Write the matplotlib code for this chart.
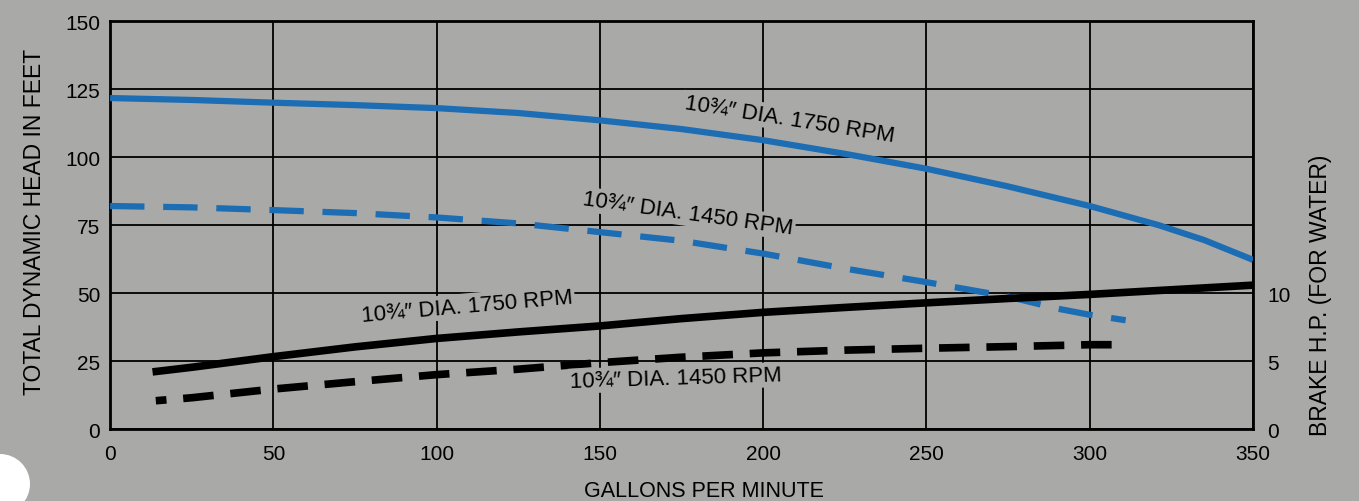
import matplotlib.pyplot as plt
from matplotlib.patches import Circle

plt.rcParams['font.family'] = ['Liberation Sans', 'DejaVu Sans']

# pump curves (GPM vs feet of head)
gpm_head = [0, 25, 50, 75, 100, 125, 150, 175, 200, 225, 250, 275, 300, 321, 335, 350]
head_1750 = [121.7, 121, 120, 119.1, 118, 116.2, 113.5, 110.3, 106.2, 101.2, 95.7, 89.2, 82, 75, 69.5, 62.2]

gpm_head_1450 = [0, 25, 50, 75, 100, 125, 150, 175, 200, 225, 250, 275, 290, 300, 311]
head_1450 = [82, 81.5, 80.5, 79.4, 77.8, 75.6, 72.4, 69.2, 64.5, 59, 54, 48.7, 44.3, 42, 40]

# brake HP curves (plotted on the head scale, 5 ft = 1 HP)
gpm_hp = [13, 25, 50, 75, 100, 125, 150, 175, 200, 225, 250, 275, 300, 325, 350]
hp_1750 = [21, 22.7, 26.6, 30.2, 33.3, 35.7, 37.9, 40.6, 42.9, 44.7, 46.4, 48, 49.5, 51.2, 52.9]

gpm_hp_1450 = [14, 25, 50, 75, 100, 125, 150, 175, 200, 225, 250, 275, 300, 311]
hp_1450 = [10.4, 11.5, 14.7, 17.4, 20, 22, 24.4, 26.4, 28, 29, 29.7, 30.3, 31, 31]

bg = '#a9aaa7'
blue = '#1c6db4'

fig = plt.figure(figsize=(13.59, 5.02), dpi=100, facecolor=bg)
ax = fig.add_axes([0.081, 0.1434, 0.841, 0.8126], facecolor=bg)

ax.set_xlim(0, 350)
ax.set_ylim(0, 150)
ax.set_xticks(range(0, 351, 50))
ax.set_yticks(range(0, 151, 25))
ax.grid(True, color='black', lw=1.3)
ax.tick_params(length=0, labelsize=15)
ax.tick_params(axis='x', pad=11)
ax.tick_params(axis='y', pad=7)
for s in ax.spines.values():
    s.set_linewidth(2)

ax.plot(gpm_head, head_1750, color=blue, lw=4.5, solid_capstyle='butt', zorder=3)
ax.plot(gpm_head_1450, head_1450, color=blue, lw=4.5, ls=(0, (5.5, 3)), zorder=3)
ax.plot(gpm_hp, hp_1750, color='black', lw=5.5, solid_capstyle='butt', zorder=3)
ax.plot(gpm_hp_1450, hp_1450, color='black', lw=5.5, ls=(2.6, (4, 2.2)), zorder=3)

lbl = dict(fontsize=16, ha='center', va='center', zorder=4,
           bbox=dict(facecolor=bg, edgecolor='none', pad=1.5))
ax.text(208, 114, '10¾″ DIA. 1750 RPM', rotation=-9, **lbl)
ax.text(177, 79.2, '10¾″ DIA. 1450 RPM', rotation=-8, **lbl)
ax.text(109.3, 45.3, '10¾″ DIA. 1750 RPM', rotation=5, **lbl)
ax.text(173.3, 18.8, '10¾″ DIA. 1450 RPM', rotation=1.8, **lbl)

fig.text(35 / 1359, 1 - 221.5 / 502, 'TOTAL DYNAMIC HEAD IN FEET', rotation=90,
         fontsize=16.5, ha='center', va='center')
fig.text(704 / 1359, 1 - 491.5 / 502, 'GALLONS PER MINUTE', fontsize=15.5,
         ha='center', va='center')
fig.text(1320 / 1359, 1 - 295.5 / 502, 'BRAKE H.P. (FOR WATER)', rotation=90,
         fontsize=16.5, ha='center', va='center')

ax2 = ax.twinx()
ax2.set_ylim(0, 30)
ax2.set_yticks([0, 5, 10])
ax2.tick_params(length=0, labelsize=15, pad=10)
for s in ax2.spines.values():
    s.set_visible(False)

# hole punch
fig.patches.append(Circle((0.0, 0.17), 0.30, transform=fig.dpi_scale_trans,
                          facecolor='white', edgecolor='none'))

fig.savefig('out.png', dpi=100, facecolor=bg)
